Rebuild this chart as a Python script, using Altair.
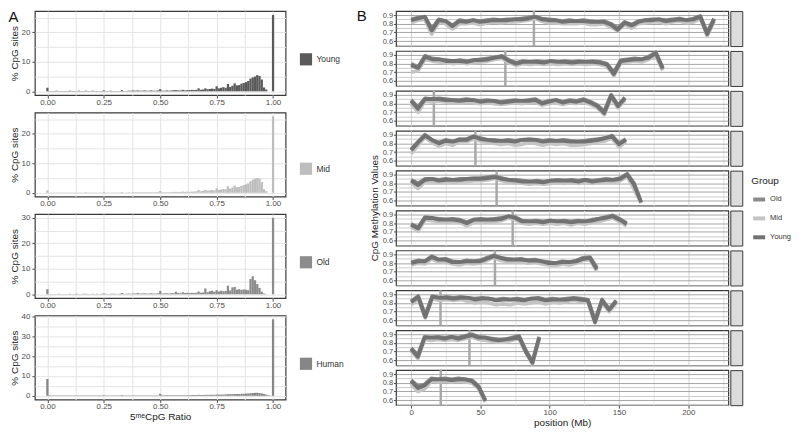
import altair as alt
import numpy as np
import pandas as pd

# ---------------- Panel A : histograms (% CpG sites per 0.01 ratio bin) ----------------
ratio_bins = [round(k / 100, 2) for k in range(101)]

young_pct = [1.2, 0.1, 0.1, 0.1, 0.2, 0.1, 0.1, 0.1, 0.1, 0.1,
             0.2, 0.1, 0.1, 0.1, 0.2, 0.1, 0.1, 0.2, 0.1, 0.1,
             0.2, 0.1, 0.1, 0.1, 0.1, 0.3, 0.1, 0.1, 0.2, 0.1,
             0.1, 0.1, 0.1, 0.4, 0.1, 0.1, 0.2, 0.2, 0.3, 0.2,
             0.3, 0.2, 0.2, 0.3, 0.2, 0.2, 0.3, 0.2, 0.2, 0.3,
             0.7, 0.2, 0.2, 0.3, 0.2, 0.3, 0.4, 0.4, 0.3, 0.3,
             0.5, 0.3, 0.4, 0.4, 0.5, 0.4, 0.5, 1.0, 0.5, 0.6,
             1.0, 0.7, 0.8, 0.9, 0.8, 1.7, 1.0, 1.2, 1.4, 1.2,
             2.5, 1.5, 1.9, 2.7, 2.0, 2.1, 2.6, 2.8, 3.1, 3.5,
             4.3, 4.7, 5.0, 5.5, 5.2, 4.0, 1.3, 0.6, 0.0, 0.0,
             25.9]
mid_pct = [0.8, 0.1, 0.1, 0.1, 0.1, 0.1, 0.1, 0.1, 0.1, 0.1,
           0.1, 0.1, 0.1, 0.1, 0.1, 0.1, 0.1, 0.2, 0.1, 0.1,
           0.1, 0.1, 0.1, 0.1, 0.1, 0.3, 0.1, 0.1, 0.1, 0.1,
           0.1, 0.1, 0.1, 0.3, 0.1, 0.1, 0.2, 0.1, 0.2, 0.2,
           0.2, 0.2, 0.2, 0.2, 0.2, 0.2, 0.2, 0.2, 0.2, 0.2,
           0.6, 0.2, 0.2, 0.2, 0.2, 0.3, 0.3, 0.3, 0.3, 0.3,
           0.4, 0.3, 0.4, 0.3, 0.4, 0.4, 0.5, 0.9, 0.5, 0.6,
           1.0, 0.7, 0.8, 0.9, 0.8, 1.5, 1.0, 1.1, 1.3, 1.2,
           2.2, 1.4, 1.8, 2.4, 1.9, 2.0, 2.3, 2.6, 2.9, 3.2,
           3.9, 4.4, 4.8, 5.0, 4.8, 3.6, 1.2, 0.5, 0.0, 0.0,
           25.9]
old_pct = [2.0, 0.1, 0.1, 0.1, 0.1, 0.2, 0.1, 0.1, 0.1, 0.1,
           0.2, 0.1, 0.1, 0.2, 0.1, 0.1, 0.2, 0.2, 0.1, 0.1,
           0.2, 0.1, 0.2, 0.1, 0.2, 0.3, 0.2, 0.1, 0.2, 0.2,
           0.2, 0.1, 0.2, 0.5, 0.2, 0.2, 0.3, 0.2, 0.3, 0.3,
           0.5, 0.3, 0.3, 0.4, 0.3, 0.3, 0.4, 0.3, 0.3, 0.4,
           1.3, 0.3, 0.4, 0.4, 0.3, 0.5, 0.4, 1.0, 0.5, 0.4,
           0.8, 0.5, 0.6, 0.5, 0.6, 0.5, 0.6, 1.1, 0.6, 0.7,
           2.3, 0.8, 1.2, 1.4, 1.0, 1.6, 1.1, 1.4, 1.2, 1.3,
           3.4, 1.5, 2.7, 2.9, 1.8, 2.0, 1.7, 1.9, 1.8, 1.6,
           6.0, 7.1, 5.5, 4.0, 2.5, 1.0, 0.3, 0.1, 0.0, 0.0,
           30.0]
human_pct = [8.5, 0.3, 0.2, 0.2, 0.2, 0.2, 0.2, 0.2, 0.2, 0.2,
             0.2, 0.2, 0.2, 0.2, 0.2, 0.2, 0.2, 0.2, 0.2, 0.2,
             0.2, 0.2, 0.2, 0.2, 0.2, 0.3, 0.2, 0.2, 0.2, 0.2,
             0.2, 0.2, 0.2, 0.3, 0.2, 0.2, 0.2, 0.2, 0.2, 0.2,
             0.2, 0.2, 0.2, 0.2, 0.2, 0.2, 0.2, 0.2, 0.2, 0.2,
             1.0, 0.3, 0.3, 0.3, 0.3, 0.3, 0.3, 0.3, 0.3, 0.3,
             0.3, 0.3, 0.3, 0.3, 0.4, 0.4, 0.4, 0.5, 0.4, 0.4,
             0.5, 0.5, 0.5, 0.5, 0.5, 0.6, 0.6, 0.6, 0.6, 0.7,
             0.8, 0.8, 0.8, 0.9, 0.9, 0.9, 1.0, 1.0, 1.1, 1.2,
             1.3, 1.4, 1.5, 1.5, 1.4, 1.2, 0.9, 0.6, 0.3, 0.1,
             38.5]

hist_groups = ["Young", "Mid", "Old", "Human"]
hist_colors = ["#5a5a5a", "#bdbdbd", "#8c8c8c", "#868686"]
hist_values = [young_pct, mid_pct, old_pct, human_pct]
hist_ydomains = [[-1.3, 27.2], [-1.3, 27.2], [-1.5, 31.5], [-1.9, 40.4]]
hist_yticks = [[0, 5, 10, 15, 20, 25], [0, 5, 10, 15, 20, 25],
               [0, 5, 10, 15, 20, 25, 30], [0, 5, 10, 15, 20, 25, 30, 35, 40]]
hist_legend_y = [42, 50, 42, 42]
ratio_ticks = [0, 0.125, 0.25, 0.375, 0.5, 0.625, 0.75, 0.875, 1.0]

# ---------------- Panel B : methylation along chromosomes (values x100) ----------------
chrom_len = [218.6, 181.6, 154.3, 155.0, 166.0, 155.5, 134.0, 148.0, 92.4, 53.6]
centromere = [88.6, 68.0, 16.4, 46.4, 61.7, 73.3, 60.5, 21.2, 42.1, 21.4]

old_meth = [
    [85, 87, 88, 74, 85, 83, 78, 84, 83, 84, 83, 84, 85, 84, 85, 85, 86, 87, 88, 86, 85, 84, 83, 84, 83, 84, 83, 82, 83, 80, 75, 82, 79, 83, 84, 85, 85, 84, 85, 86, 84, 86, 89, 70, 86],
    [80, 76, 89, 86, 85, 84, 83, 84, 83, 84, 85, 86, 87, 89, 84, 81, 83, 82, 83, 82, 83, 82, 83, 82, 83, 82, 83, 82, 80, 70, 84, 85, 86, 85, 88, 93, 75],
    [84, 76, 86, 85, 86, 85, 84, 84, 85, 84, 83, 84, 83, 82, 83, 84, 83, 84, 85, 81, 83, 84, 82, 84, 83, 85, 82, 78, 71, 90, 78, 87],
    [73, 82, 90, 84, 81, 84, 82, 85, 85, 88, 86, 84, 84, 83, 84, 83, 84, 85, 84, 83, 84, 83, 84, 83, 82, 83, 84, 85, 86, 89, 80, 85],
    [84, 80, 85, 85, 84, 85, 84, 85, 85, 86, 86, 87, 88, 86, 84, 84, 83, 82, 83, 82, 83, 84, 83, 84, 83, 84, 83, 84, 85, 84, 86, 91, 80, 58],
    [79, 75, 87, 86, 85, 84, 85, 84, 81, 84, 85, 84, 85, 86, 88, 87, 83, 82, 83, 82, 83, 82, 83, 82, 83, 82, 84, 85, 87, 89, 85, 80],
    [81, 83, 82, 88, 84, 85, 82, 81, 83, 82, 83, 86, 89, 86, 85, 84, 85, 83, 84, 82, 81, 80, 82, 81, 83, 86, 87, 75],
    [82, 88, 66, 88, 86, 87, 86, 87, 86, 85, 86, 85, 84, 85, 84, 85, 84, 85, 86, 84, 85, 84, 85, 86, 85, 84, 60, 84, 73, 83],
    [74, 66, 87, 86, 87, 86, 87, 86, 88, 90, 87, 86, 85, 84, 84, 86, 88, 72, 58, 87],
    [83, 76, 78, 85, 84, 85, 84, 85, 84, 83, 76, 60],
]
young_meth = [
    [84, 86, 88, 72, 84, 83, 77, 83, 82, 84, 82, 83, 84, 84, 84, 85, 85, 86, 88, 85, 84, 84, 82, 83, 83, 83, 82, 82, 82, 79, 73, 81, 78, 82, 84, 84, 85, 83, 84, 85, 84, 85, 88, 68, 85],
    [78, 75, 88, 85, 85, 83, 83, 83, 82, 84, 84, 85, 87, 88, 83, 80, 82, 82, 82, 81, 83, 82, 82, 81, 82, 82, 82, 81, 79, 68, 83, 84, 85, 85, 87, 92, 74],
    [83, 74, 85, 85, 85, 84, 84, 83, 84, 84, 82, 83, 83, 81, 82, 83, 83, 83, 84, 80, 82, 84, 81, 83, 82, 84, 81, 77, 69, 89, 77, 86],
    [72, 81, 89, 84, 80, 83, 82, 84, 84, 88, 85, 84, 83, 83, 83, 82, 84, 84, 84, 82, 83, 83, 83, 82, 82, 82, 83, 84, 86, 88, 79, 84],
    [83, 78, 84, 85, 83, 84, 84, 84, 85, 85, 85, 86, 87, 85, 84, 83, 82, 82, 82, 81, 83, 83, 83, 83, 82, 84, 82, 83, 84, 84, 85, 90, 78, 58],
    [78, 74, 86, 86, 84, 84, 84, 83, 80, 84, 84, 84, 84, 85, 88, 86, 82, 82, 82, 81, 83, 82, 82, 81, 82, 82, 83, 85, 86, 88, 84, 79],
    [80, 82, 82, 87, 84, 84, 81, 81, 82, 82, 82, 85, 88, 86, 84, 84, 84, 83, 83, 82, 80, 80, 81, 81, 82, 85, 86, 73],
    [81, 87, 64, 87, 86, 86, 85, 86, 86, 84, 85, 85, 83, 84, 84, 84, 83, 85, 85, 83, 84, 84, 84, 85, 84, 83, 58, 83, 72, 82],
    [73, 64, 86, 86, 86, 85, 87, 85, 87, 89, 86, 86, 84, 83, 84, 85, 87, 70, 57, 86],
    [82, 74, 77, 84, 84, 84, 83, 84, 84, 82, 75, 59],
]
mid_meth = [
    [81, 84, 85, 68, 82, 80, 74, 80, 80, 81, 79, 81, 82, 81, 82, 82, 83, 84, 86, 83, 81, 81, 80, 80, 80, 81, 79, 79, 80, 76, 72, 79, 75, 80, 81, 82, 82, 80, 82, 83, 81, 82, 86, 66, 83],
    [70, 72, 85, 83, 82, 81, 80, 81, 80, 81, 82, 83, 85, 86, 81, 78, 80, 79, 80, 79, 80, 79, 80, 79, 80, 79, 80, 79, 77, 66, 81, 82, 83, 82, 85, 89, 72],
    [80, 70, 83, 82, 83, 82, 81, 81, 82, 81, 80, 81, 80, 79, 80, 81, 80, 81, 82, 78, 80, 81, 79, 81, 80, 82, 79, 75, 67, 86, 75, 84],
    [68, 78, 87, 81, 77, 80, 78, 82, 82, 85, 83, 81, 80, 79, 80, 78, 79, 81, 80, 78, 80, 79, 80, 78, 78, 79, 80, 82, 83, 86, 76, 82],
    [81, 74, 82, 82, 81, 82, 81, 82, 82, 83, 83, 84, 86, 83, 81, 81, 80, 79, 80, 79, 80, 81, 80, 81, 80, 81, 80, 81, 82, 81, 83, 88, 73, 57],
    [76, 71, 84, 83, 82, 81, 82, 81, 77, 81, 82, 81, 82, 83, 86, 84, 80, 79, 80, 79, 80, 79, 80, 78, 80, 79, 81, 82, 84, 86, 82, 77],
    [78, 80, 79, 85, 81, 82, 79, 78, 80, 79, 80, 83, 87, 83, 82, 81, 82, 80, 81, 79, 78, 77, 79, 78, 80, 83, 84, 71],
    [78, 85, 63, 85, 83, 84, 83, 84, 82, 80, 81, 80, 78, 79, 78, 80, 79, 80, 81, 79, 81, 80, 82, 83, 82, 81, 57, 81, 70, 80],
    [71, 62, 84, 83, 84, 83, 84, 83, 85, 87, 84, 83, 82, 81, 81, 83, 85, 69, 56, 84],
    [79, 70, 73, 82, 81, 82, 81, 82, 81, 80, 73, 58],
]
b_groups = ["Old", "Mid", "Young"]
b_colors = ["#8a8a8a", "#c4c4c4", "#727272"]
pos_ticks = [0, 25, 50, 75, 100, 125, 150, 175, 200, 225]
meth_ticks = [0.55, 0.6, 0.65, 0.7, 0.75, 0.8, 0.85, 0.9]

FONT = "Liberation Sans"
A_W, A_H, A_GAP = 252, 84.5, 17
B_W, ROW_H, B_GAP = 334, 35.2, 4.1

# ---------------- build panel A ----------------
def hist_panel(i):
    df = pd.DataFrame({"ratio": ratio_bins, "pct": hist_values[i], "group": hist_groups[i]})
    last = i == 3
    x_kw = dict(values=ratio_ticks, format=".2f",
                labelExpr="(datum.value * 4) % 1 == 0 ? datum.label : ''",
                tickSize={"condition": {"test": "(datum.value * 4) % 1 == 0", "value": 3}, "value": 0},
                gridColor="#e4e4e4", labelPadding=0, labelFontSize=8)
    if last:
        x_kw.update(title="5ᵐᵉCpG Ratio", titlePadding=1)
    else:
        x_kw.update(title=None)
    y_axis = alt.Axis(values=hist_yticks[i], title="% CpG sites", titlePadding=2,
                      labelExpr="datum.value % 10 === 0 ? datum.label : ''",
                      tickSize={"condition": {"test": "datum.value % 10 === 0", "value": 3}, "value": 0},
                      gridColor="#e4e4e4", labelPadding=2, labelFontSize=8)
    return (
        alt.Chart(df)
        .transform_calculate(lo="datum.ratio - 0.005", hi="datum.ratio + 0.005")
        .mark_bar()
        .encode(
            x=alt.X("lo:Q", scale=alt.Scale(domain=[-0.0555, 1.0555], nice=False, zero=False),
                    axis=alt.Axis(**x_kw)),
            x2="hi:Q",
            y=alt.Y("pct:Q", stack=None,
                    scale=alt.Scale(domain=hist_ydomains[i], nice=False, zero=False), axis=y_axis),
            y2=alt.datum(0),
            color=alt.Color("group:N",
                            scale=alt.Scale(domain=[hist_groups[i]], range=[hist_colors[i]]),
                            legend=alt.Legend(orient="none", legendX=A_W + 14, legendY=hist_legend_y[i],
                                              title=None, symbolType="square", symbolSize=150,
                                              symbolStrokeWidth=0, labelFontSize=8.5, padding=0)),
        )
        .properties(width=A_W, height=A_H)
    )


panel_a = alt.vconcat(
    *[hist_panel(i) for i in range(4)],
    spacing=A_GAP, bounds="flush",
    title=alt.TitleParams("A", anchor="start", frame="bounds", offset=-15, fontSize=15,
                          fontWeight="normal", color="#111111"),
).resolve_scale(color="independent")

# ---------------- build panel B ----------------
x_scale_b = alt.Scale(domain=[-10.9, 228.9], nice=False, zero=False)
y_scale_b = alt.Scale(domain=[0.542, 0.946], nice=False, zero=False)


def b_plot(i):
    n = len(old_meth[i])
    pos = np.linspace(0, chrom_len[i], n)
    recs = []
    for g, arr in (("Old", old_meth[i]), ("Mid", mid_meth[i]), ("Young", young_meth[i])):
        for p, v in zip(pos, arr):
            recs.append({"pos": float(p), "val": v / 100.0, "group": g})
    df = pd.DataFrame(recs)
    last = i == 9
    x_kw = dict(values=pos_ticks,
                gridColor={"condition": {"test": "datum.value % 50 === 0", "value": "#d0d0d0"}, "value": "#e6e6e6"})
    if last:
        x_kw.update(title="position (Mb)", titlePadding=1, labelPadding=0, labelFontSize=8,
                    labelExpr="datum.value % 50 === 0 ? datum.label : ''",
                    tickSize={"condition": {"test": "datum.value % 50 === 0", "value": 3}, "value": 0})
    else:
        x_kw.update(title=None, labels=False, ticks=False)
    y_kw = dict(values=meth_ticks, format=".1f",
                labelExpr="round(datum.value * 100) % 10 === 0 ? datum.label : ''",
                tickSize={"condition": {"test": "round(datum.value * 100) % 10 === 0", "value": 2.5}, "value": 0},
                gridColor={"condition": {"test": "round(datum.value * 100) % 10 === 0", "value": "#8f8f8f"}, "value": "#bdbdbd"},
                gridWidth=0.8, labelFontSize=7.5, labelPadding=1)
    if i == 4:
        y_kw.update(title="CpG Methylation Values", titleY=ROW_H + 2, titlePadding=3)
    else:
        y_kw.update(title=None)
    x_axis = alt.Axis(**x_kw)
    rule = (
        alt.Chart(pd.DataFrame({"cen": [centromere[i]]}))
        .mark_rule(color="#a8a8a8", strokeWidth=2.5)
        .encode(x=alt.X("cen:Q", scale=x_scale_b, axis=x_axis))
    )
    line = (
        alt.Chart(df)
        .mark_line(strokeWidth=3.8, strokeJoin="round")
        .encode(
            x=alt.X("pos:Q", scale=x_scale_b, axis=x_axis),
            y=alt.Y("val:Q", scale=y_scale_b, axis=alt.Axis(**y_kw)),
            color=alt.Color("group:N", scale=alt.Scale(domain=b_groups, range=b_colors), legend=None),
        )
    )
    return alt.layer(rule, line).properties(width=B_W, height=ROW_H)


strip_view = alt.ViewBackground(fill="#dcdcdc", stroke="#3a3a3a", strokeWidth=1)


def b_strip(i):
    if i == 4:
        ch = (
            alt.Chart(pd.DataFrame({"group": b_groups}))
            .mark_point(opacity=0)
            .encode(color=alt.Color(
                "group:N", scale=alt.Scale(domain=b_groups, range=b_colors),
                legend=alt.Legend(title="Group", orient="none", legendX=21, legendY=5,
                                  symbolType="stroke", symbolSize=144, symbolStrokeWidth=4,
                                  symbolOpacity=1, labelFontSize=7.5, labelOffset=3,
                                  titleFontSize=10, titleFontWeight="normal", rowPadding=3,
                                  padding=0, titlePadding=6)))
        )
    else:
        ch = alt.Chart(pd.DataFrame({"s": [""]})).mark_text().encode(text="s:N")
    return ch.properties(width=12, height=ROW_H, view=strip_view)


b_plots = alt.vconcat(*[b_plot(i) for i in range(10)], spacing=B_GAP, bounds="flush")
b_strips = alt.vconcat(*[b_strip(i) for i in range(10)], spacing=B_GAP,
                       bounds="flush").resolve_scale(color="independent")

panel_b = alt.hconcat(
    b_plots, b_strips, spacing=0,
    title=alt.TitleParams("B", anchor="start", frame="bounds", offset=-15, dx=-12, fontSize=15,
                          fontWeight="normal", color="#111111"),
).resolve_scale(color="independent")

chart = (
    alt.hconcat(panel_a, panel_b, spacing=11)
    .resolve_scale(color="independent")
    .properties(padding=0)
    .configure(font=FONT)
    .configure_view(stroke="#3a3a3a", strokeWidth=1.2)
    .configure_axis(labelColor="#4d4d4d", titleFontSize=10, titleFontWeight="normal",
                    titleColor="#1a1a1a", tickColor="#4d4d4d", domain=False, labelFont=FONT, titleFont=FONT)
    .configure_legend(labelColor="#333333", titleColor="#1a1a1a", labelFont=FONT, titleFont=FONT)
)

chart.save("out.html", embed_options={"renderer": "svg", "actions": False})
